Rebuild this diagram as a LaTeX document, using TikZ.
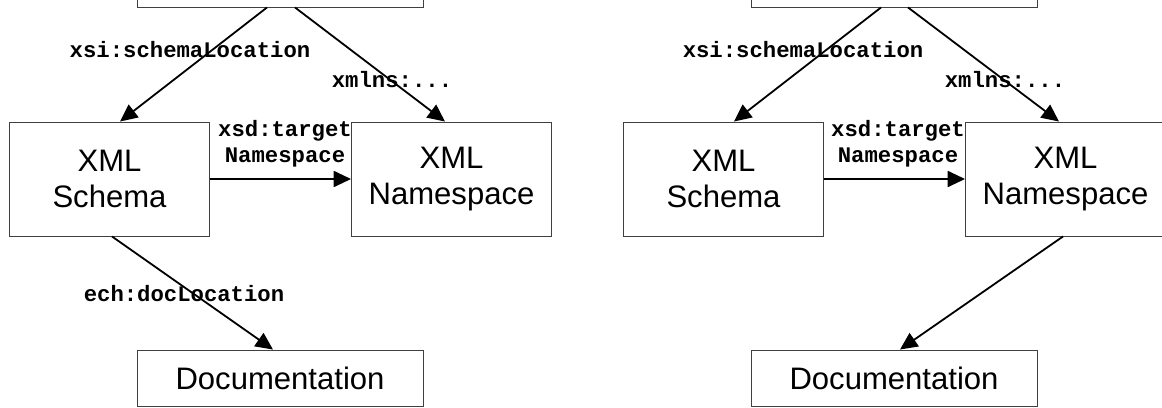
\documentclass[tikz,border=0pt]{standalone}
\usepackage{fontspec}
\setmainfont{Liberation Sans}
\newfontfamily\lblmono{Liberation Mono}
\usetikzlibrary{arrows.meta,calc}
\begin{document}
\begin{tikzpicture}[x=0.75pt,y=-0.75pt,
  box/.style={draw=black!75, line width=0.7pt, inner sep=0pt, align=center,
    font=\fontsize{23.3pt}{27pt}\selectfont},
  wide/.style={box, minimum width={286*0.75pt}, minimum height={56*0.75pt}},
  mid/.style={box, minimum width={200*0.75pt}, minimum height={114*0.75pt}},
  conn/.style={line width=1.35pt, -{Triangle[length=13pt,width=12pt]}},
  lbl/.style={font=\lblmono\bfseries\fontsize{16.7pt}{19.5pt}\selectfont, align=center, inner sep=0pt}]
\useasboundingbox (0,0) rectangle (1162,407);
\clip (0,0) rectangle (1162,407);
\fill[white] (0,0) rectangle (1162,407);

% left diagram
\node[wide] (topL) at (280,-21) {};
\node[mid] (schemaL) at (109.5,179) {XML\\Schema};
\node[mid] (nsL) at (451.5,179) {XML\\Namespace};
\node[wide] (docL) at (280,378) {Documentation};

\draw[conn] ($(topL.south)+(-13,0)$) -- ($(schemaL.north)+(10.5,0)$);
\draw[conn] ($(topL.south)+(15,0)$) -- ($(nsL.north)+(-6.5,0)$);
\draw[conn] (schemaL.east) -- (nsL.west);
\draw[conn] ($(schemaL.south)+(2.5,0)$) -- ($(docL.north)+(-7,0)$);

\node[lbl] (l1) at (190,50) {xsi:schemaLocation};
\node[lbl] (l2) at (392,80) {xmlns:...};
\node[lbl] (l3) at (285,144) {xsd:target\\Namespace};
\node[lbl] (l4) at (184,294) {ech:docLocation};

% right diagram
\node[wide] (topR) at (894,-21) {};
\node[mid] (schemaR) at (723.5,179) {XML\\Schema};
\node[mid] (nsR) at (1065.5,179) {XML\\Namespace};
\node[wide] (docR) at (894,378) {Documentation};

\draw[conn] ($(topR.south)+(-13,0)$) -- ($(schemaR.north)+(10.5,0)$);
\draw[conn] ($(topR.south)+(14,0)$) -- ($(nsR.north)+(-6.5,0)$);
\draw[conn] (schemaR.east) -- (nsR.west);
\draw[conn] ($(nsR.south)+(-2.5,0)$) -- ($(docR.north)+(6,0)$);

\node[lbl] (r1) at (803,50) {xsi:schemaLocation};
\node[lbl] (r2) at (1005,80) {xmlns:...};
\node[lbl] (r3) at (898,144) {xsd:target\\Namespace};
\end{tikzpicture}
\end{document}
